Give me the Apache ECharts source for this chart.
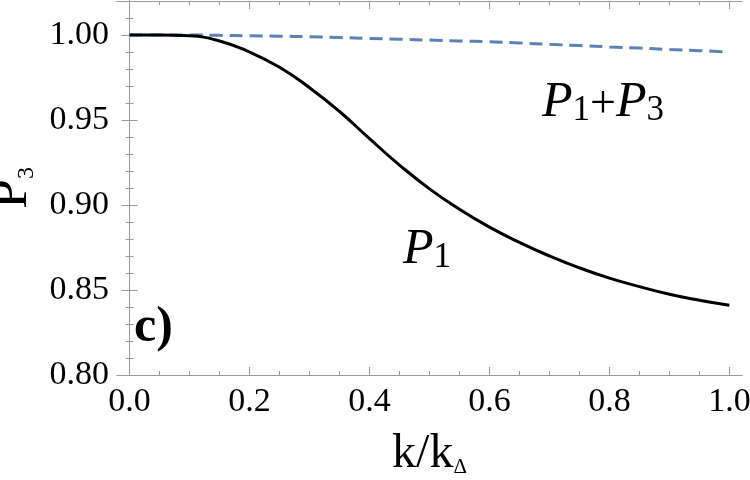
<!DOCTYPE html>
<html>
<head>
<meta charset="utf-8">
<script src="https://cdn.jsdelivr.net/npm/echarts@6/dist/echarts.min.js"></script>
<style>
  html, body { margin: 0; padding: 0; background: #fff; }
  #main { width: 750px; height: 480px; }
</style>
</head>
<body>
<div id="main"></div>
<script>
// data
var kValues   = [0, 0.05, 0.1, 0.15, 0.2, 0.25, 0.3, 0.35, 0.4, 0.45, 0.5, 0.55, 0.6, 0.65, 0.7, 0.75, 0.8, 0.85, 0.9, 0.95, 1.0];
var p1Values  = [1.0, 1.0, 0.9995, 0.9965, 0.990, 0.981, 0.969, 0.955, 0.939, 0.9235, 0.9095, 0.8975, 0.887, 0.878, 0.870, 0.863, 0.857, 0.852, 0.8475, 0.844, 0.841];
var p13Values = [1.0, 1.0, 1.0, 0.9998, 0.9995, 0.9993, 0.999, 0.9985, 0.998, 0.9975, 0.997, 0.9965, 0.996, 0.9953, 0.9945, 0.9938, 0.993, 0.9923, 0.9915, 0.9908, 0.990];

// tick labels
var xMajor = [0, 0.2, 0.4, 0.6, 0.8, 1.0];
var xMinor = [0.05, 0.1, 0.15, 0.25, 0.3, 0.35, 0.45, 0.5, 0.55, 0.65, 0.7, 0.75, 0.85, 0.9, 0.95];
var yMajor = [0.80, 0.85, 0.90, 0.95, 1.00];
var yMinor = [0.81, 0.82, 0.83, 0.84, 0.86, 0.87, 0.88, 0.89, 0.91, 0.92, 0.93, 0.94, 0.96, 0.97, 0.98, 0.99, 1.01];

var serif = '"Liberation Serif", "DejaVu Serif", serif';
var frameColor = '#9a9a9a';

function zip(xs, ys){
    var out = [];
    for(var i = 0;i<xs.length;i++){
        out.push([xs[i], ys[i]]);
    }
    return out;
}

// one axis per tick set, so ticks can sit at fixed values
function xAx(pos, ticks, len, labels){
    return {
        type: 'value', position: pos, min: -0.021, max: 1.021,
        axisLine: { show: true, lineStyle: { color: frameColor, width: 1 } },
        axisTick: { show: true, inside: true, length: len, customValues: ticks, lineStyle: { color: frameColor } },
        axisLabel: labels ? {
            show: true, customValues: ticks, margin: 10, color: '#000',
            fontFamily: serif, fontSize: 34,
            formatter: function(v){ return v.toFixed(1); }
        } : { show: false },
        splitLine: { show: false }
    };
}
function yAx(pos, ticks, len, labels){
    return {
        type: 'value', position: pos, min: 0.80, max: 1.02,
        axisLine: { show: true, lineStyle: { color: frameColor, width: 1 } },
        axisTick: { show: true, inside: true, length: len, customValues: ticks, lineStyle: { color: frameColor } },
        axisLabel: labels ? {
            show: true, customValues: ticks, margin: 8, color: '#000',
            fontFamily: serif, fontSize: 34,
            formatter: function(v){ return v.toFixed(2); }
        } : { show: false },
        splitLine: { show: false }
    };
}

var chart = echarts.init(document.getElementById('main'));

var xBottom = xAx('bottom', xMajor, 8, true);
xBottom.name = '{k|k/k}{d|Δ}';
xBottom.nameLocation = 'middle';
xBottom.nameGap = 55;
xBottom.nameTextStyle = {
    fontFamily: serif, color: '#000',
    rich: {
        k: { fontFamily: serif, fontSize: 48, lineHeight: 48, verticalAlign: 'bottom', color: '#000' },
        d: { fontFamily: serif, fontSize: 21, lineHeight: 8, verticalAlign: 'bottom', color: '#000' }
    }
};

var yLeft = yAx('left', yMajor, 8, true);
yLeft.name = '{p|P}{s|3}';
yLeft.nameLocation = 'middle';
yLeft.nameRotate = 90;
yLeft.nameGap = 72;
yLeft.nameTextStyle = {
    fontFamily: serif, color: '#000',
    rich: {
        p: { fontFamily: serif, fontSize: 54, lineHeight: 54, verticalAlign: 'bottom', color: '#000' },
        s: { fontFamily: serif, fontSize: 24, lineHeight: 8, verticalAlign: 'bottom', color: '#000' }
    }
};

var option = {
    animation: false,
    backgroundColor: '#fff',
    grid: { left: 117, right: 8, top: 1, bottom: 105, outerBoundsMode: 'none', containLabel: false },
    xAxis: [
        xBottom,
        xAx('bottom', xMinor, 4, false),
        xAx('top', xMajor, 8, false),
        xAx('top', xMinor, 4, false)
    ],
    yAxis: [
        yLeft,
        yAx('left', yMinor, 4, false),
        yAx('right', yMajor, 8, false),
        yAx('right', yMinor, 4, false)
    ],
    series: [{
        name: 'P1+P3',
        type: 'line',
        xAxisIndex: 0, yAxisIndex: 0,
        data: zip(kValues, p13Values),
        smooth: true,
        showSymbol: false,
        lineStyle: { color: '#5e81b5', width: 3, type: [13, 7] },
        z: 3
    },{
        name: 'P1',
        type: 'line',
        xAxisIndex: 0, yAxisIndex: 0,
        data: zip(kValues, p1Values),
        smooth: true,
        showSymbol: false,
        lineStyle: { color: '#000', width: 3 },
        z: 4
    }],
    graphic: [{
        type: 'text', left: 542, top: 78,
        style: {
            text: '{p|P}{s|1}{o|+}{p|P}{s|3}',
            rich: {
                p: { fontFamily: serif, fontStyle: 'italic', fontSize: 50, lineHeight: 50, verticalAlign: 'bottom', fill: '#000' },
                o: { fontFamily: serif, fontSize: 46, lineHeight: 50, verticalAlign: 'bottom', fill: '#000' },
                s: { fontFamily: serif, fontSize: 35, lineHeight: 14, verticalAlign: 'bottom', fill: '#000' }
            }
        }
    },{
        type: 'text', left: 403, top: 225,
        style: {
            text: '{p|P}{s|1}',
            rich: {
                p: { fontFamily: serif, fontStyle: 'italic', fontSize: 50, lineHeight: 50, verticalAlign: 'bottom', fill: '#000' },
                s: { fontFamily: serif, fontSize: 35, lineHeight: 14, verticalAlign: 'bottom', fill: '#000' }
            }
        }
    },{
        type: 'text', left: 134, top: 303,
        style: {
            text: 'c)',
            font: 'bold 50px ' + serif,
            fill: '#000'
        }
    }]
};
chart.setOption(option);
</script>
</body>
</html>
